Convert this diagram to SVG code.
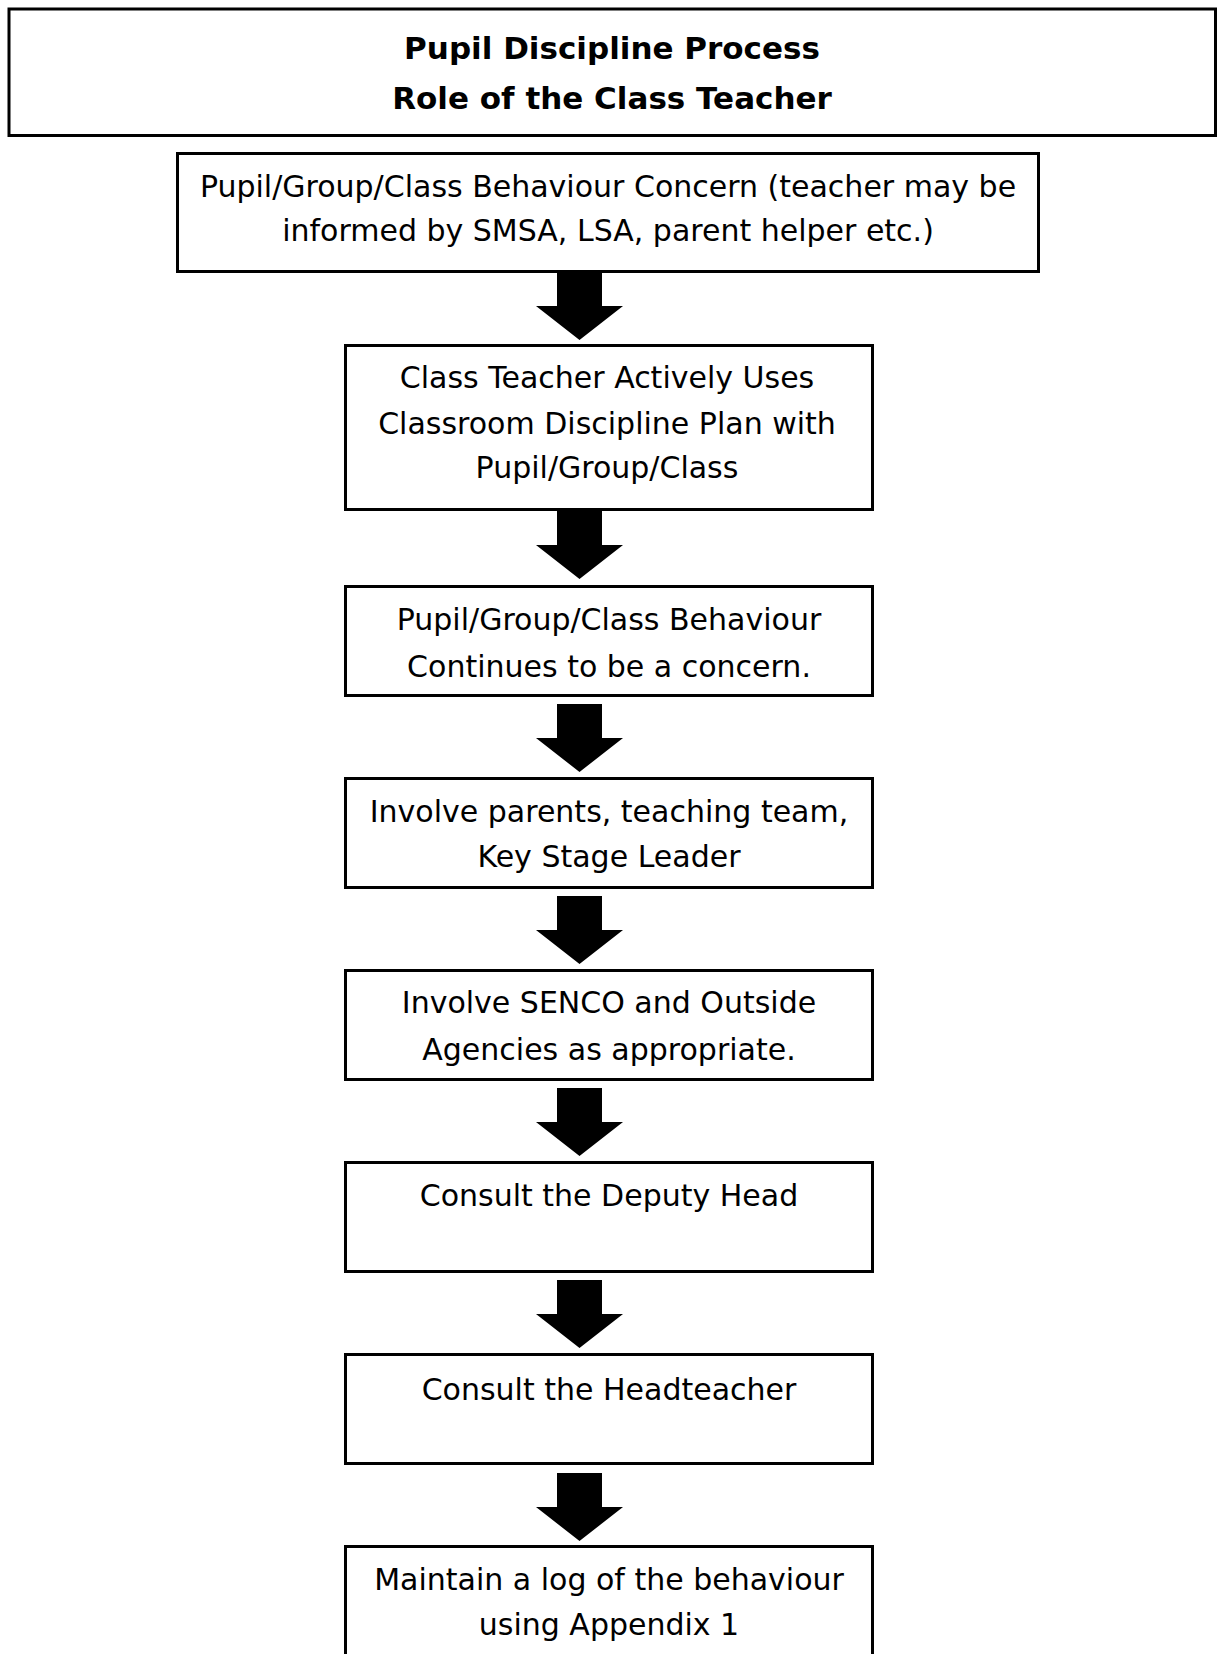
<svg xmlns="http://www.w3.org/2000/svg" width="1218" height="1654" viewBox="0 0 1218 1654">
<style>
.box{fill:#fff;stroke:#000;stroke-width:3}
.t{font-family:"DejaVu Sans","Liberation Sans",sans-serif;font-size:30px;fill:#000;text-anchor:middle}
.h{font-family:"DejaVu Sans","Liberation Sans",sans-serif;font-size:31px;font-weight:bold;fill:#000;text-anchor:middle}
.arr{fill:#000}
</style>
<defs>
<path id="arrow" d="M-22.5,0 H22.5 V34 H43.5 L0,68 L-43.5,34 H-22.5 Z"/>
</defs>
<rect width="1218" height="1654" fill="#fff"/>
<g id="title">
<rect class="box" x="9" y="9" width="1206.5" height="126.5"/>
<text class="h" x="612" y="59">Pupil Discipline Process</text>
<text class="h" x="612" y="109">Role of the Class Teacher</text>
</g>
<g id="node1">
<rect class="box" x="177.5" y="153.5" width="861" height="118"/>
<text class="t" x="608" y="197">Pupil/Group/Class Behaviour Concern (teacher may be</text>
<text class="t" x="608" y="241">informed by SMSA, LSA, parent helper etc.)</text>
</g>
<g id="node2">
<rect class="box" x="345.5" y="345.5" width="527" height="164"/>
<text class="t" x="607" y="388">Class Teacher Actively Uses</text>
<text class="t" x="607" y="434">Classroom Discipline Plan with</text>
<text class="t" x="607" y="478">Pupil/Group/Class</text>
</g>
<g id="node3">
<rect class="box" x="345.5" y="586.5" width="527" height="109"/>
<text class="t" x="609" y="630">Pupil/Group/Class Behaviour</text>
<text class="t" x="609" y="677">Continues to be a concern.</text>
</g>
<g id="node4">
<rect class="box" x="345.5" y="778.5" width="527" height="109"/>
<text class="t" x="609" y="822">Involve parents, teaching team,</text>
<text class="t" x="609" y="867">Key Stage Leader</text>
</g>
<g id="node5">
<rect class="box" x="345.5" y="970.5" width="527" height="109"/>
<text class="t" x="609" y="1013">Involve SENCO and Outside</text>
<text class="t" x="609" y="1060">Agencies as appropriate.</text>
</g>
<g id="node6">
<rect class="box" x="345.5" y="1162.5" width="527" height="109"/>
<text class="t" x="609" y="1206">Consult the Deputy Head</text>
</g>
<g id="node7">
<rect class="box" x="345.5" y="1354.5" width="527" height="109"/>
<text class="t" x="609" y="1400">Consult the Headteacher</text>
</g>
<g id="node8">
<rect class="box" x="345.5" y="1546.5" width="527" height="140"/>
<text class="t" x="609" y="1590">Maintain a log of the behaviour</text>
<text class="t" x="609" y="1635">using Appendix 1</text>
</g>
<g id="connectors">
<use href="#arrow" class="arr" x="579.5" y="272"/>
<use href="#arrow" class="arr" x="579.5" y="511"/>
<use href="#arrow" class="arr" x="579.5" y="704"/>
<use href="#arrow" class="arr" x="579.5" y="896"/>
<use href="#arrow" class="arr" x="579.5" y="1088"/>
<use href="#arrow" class="arr" x="579.5" y="1280"/>
<use href="#arrow" class="arr" x="579.5" y="1473"/>
</g>
</svg>
